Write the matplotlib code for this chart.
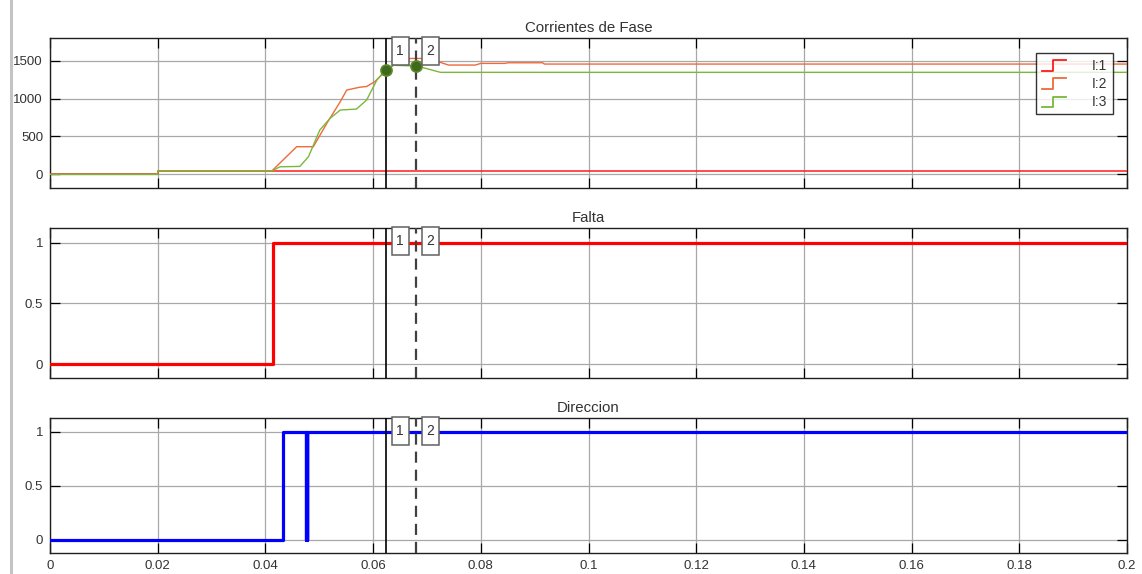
import numpy as np
import matplotlib
matplotlib.use("Agg")
import matplotlib.pyplot as plt
import matplotlib.transforms as mtransforms
from matplotlib.patches import Rectangle
from matplotlib.lines import Line2D
from matplotlib.legend_handler import HandlerBase

plt.rcParams["font.family"] = ["Liberation Sans", "DejaVu Sans"]
plt.rcParams["lines.scale_dashes"] = False

# ---------------- data ----------------
# Phase currents (time in s, current in A)
t_i1 = [0.0, 0.02, 0.02, 0.2]
v_i1 = [0, 0, 45, 45]

t_i2 = [0.0, 0.02, 0.02, 0.0412, 0.0458, 0.0489, 0.0514, 0.0539, 0.0551, 0.0575,
        0.0588, 0.0603, 0.0622, 0.0638, 0.0665, 0.0667, 0.0705, 0.0708, 0.0725,
        0.0740, 0.0790, 0.0800, 0.0845, 0.0850, 0.0915, 0.0918, 0.2]
v_i2 = [0, 0, 45, 45, 365, 365, 673, 959, 1113, 1150,
        1160, 1223, 1355, 1443, 1450, 1530, 1530, 1490, 1478,
        1443, 1443, 1465, 1465, 1473, 1473, 1456, 1456]

t_i3 = [0.0, 0.02, 0.02, 0.0412, 0.0427, 0.0464, 0.0480, 0.0501, 0.0520, 0.0539,
        0.0569, 0.0588, 0.0607, 0.0622, 0.0638, 0.0680, 0.0700, 0.0718, 0.0725, 0.2]
v_i3 = [0, 0, 45, 45, 100, 105, 233, 585, 739, 849,
        862, 981, 1245, 1370, 1440, 1430, 1395, 1360, 1347, 1347]

# Fault flag (step signal)
t_falta = [0.0, 0.0414, 0.2]
v_falta = [0, 1, 1]

# Direction flag (step signal, chatters briefly near 0.0477 s)
t_dir = [0.0, 0.0433, 0.04760, 0.04763, 0.04766, 0.04769, 0.04772, 0.04775, 0.2]
v_dir = [0, 1, 0, 1, 0, 1, 0, 1, 1]

# Measurement cursors
cursor_t = [0.0624, 0.068]
cursor_labels = ["1", "2"]

series_labels = ["I:1", "I:2", "I:3"]
titles = ["Corrientes de Fase", "Falta", "Direccion"]
x_ticks = [0, 0.02, 0.04, 0.06, 0.08, 0.1, 0.12, 0.14, 0.16, 0.18, 0.2]
x_ticklabels = ["0", "0.02", "0.04", "0.06", "0.08", "0.1", "0.12", "0.14", "0.16", "0.18", "0.2"]
y_ticks_current = [0, 500, 1000, 1500]
y_ticks_flag = [0, 0.5, 1]

# ---------------- styling ----------------
C_I1 = "#FF1A1A"
C_I2 = "#EE6A3A"
C_I3 = "#7AB83C"
C_FALTA = "#FF0000"
C_DIR = "#0000FF"
GRID = "#A8A8A8"
TXT = "#333333"

W, H = 1142, 574
fig = plt.figure(figsize=(W / 100, H / 100), dpi=100)


def px_axes(left, top, right, bottom):
    return fig.add_axes([left / W, 1 - bottom / H, (right - left) / W, (bottom - top) / H])


ax1 = px_axes(50, 38, 1127, 188)
ax2 = px_axes(50, 228, 1127, 378)
ax3 = px_axes(50, 418, 1127, 553)
axes = [ax1, ax2, ax3]

for ax, title in zip(axes, titles):
    ax.set_xlim(0, 0.2)
    ax.set_xticks(x_ticks)
    ax.grid(True, color=GRID, lw=0.9)
    ax.set_axisbelow(True)
    ax.tick_params(direction="in", length=7, width=0.9, top=True, right=True,
                   labelsize=9.5, labelcolor=TXT, pad=5)
    for s in ax.spines.values():
        s.set_linewidth(1.0)
        s.set_color("#202020")
    ax.set_title(title, fontsize=10.8, color=TXT, pad=4)

ax1.set_xticklabels([])
ax2.set_xticklabels([])
ax3.set_xticklabels(x_ticklabels)

ax1.set_ylim(-180, 1800)
ax1.set_yticks(y_ticks_current)
ax2.set_ylim(-0.115, 1.12)
ax2.set_yticks(y_ticks_flag)
ax2.set_yticklabels(["0", "0.5", "1"])
ax3.set_ylim(-0.125, 1.125)
ax3.set_yticks(y_ticks_flag)
ax3.set_yticklabels(["0", "0.5", "1"])

# currents
l1, = ax1.plot(t_i1, v_i1, color=C_I1, lw=1.1, zorder=3)
l2, = ax1.plot(t_i2, v_i2, color=C_I2, lw=1.0, zorder=4)
l3, = ax1.plot(t_i3, v_i3, color=C_I3, lw=1.0, zorder=5)

# flags
ax2.plot(t_falta, v_falta, drawstyle="steps-post", color=C_FALTA, lw=2.3, zorder=3)
ax3.plot(t_dir, v_dir, drawstyle="steps-post", color=C_DIR, lw=2.3, zorder=3)

# cursors and their label boxes
box_w = 17 / ((1127 - 50) / 0.2)  # 17 px wide, in data units
for ax in axes:
    h_ax = ax.get_position().height * H
    ax.axvline(cursor_t[0], color="black", lw=1.2, zorder=6)
    ax.axvline(cursor_t[1], color="#404040", lw=1.6, dashes=(8, 5), zorder=6)
    trans = ax.get_xaxis_transform()
    for t, lab in zip(cursor_t, cursor_labels):
        off = mtransforms.ScaledTranslation(5.5 / 100, 0, fig.dpi_scale_trans)
        bh = 28 / h_ax
        y0 = 1 + 1 / h_ax - bh
        r = Rectangle((t, y0), box_w, bh, transform=trans + off, facecolor="white",
                      edgecolor="#606060", lw=1.1, zorder=8, clip_on=False)
        ax.add_patch(r)
        ax.text(t + box_w / 2, y0 + bh / 2, lab, transform=trans + off, ha="center",
                va="center", fontsize=10, color=TXT, zorder=9)

# cursor readout markers on phase 3
mk_v = np.interp(cursor_t, t_i3, v_i3)
ax1.plot(cursor_t, mk_v, "o", ms=8, color="#3F6A1C", mec="#5C8A30", mew=1.2, zorder=7,
         linestyle="none")


# legend with step-shaped glyphs
class StepHandler(HandlerBase):
    def create_artists(self, legend, orig_handle, xdescent, ydescent, width, height,
                       fontsize, trans):
        xs = np.array([0, 0.45, 0.45, 1.0]) * width - xdescent
        ys = np.array([-0.15, -0.15, 0.95, 0.95]) * height - ydescent
        ln = Line2D(xs, ys, color=orig_handle.get_color(), lw=1.3, transform=trans)
        return [ln]


leg = ax1.legend([l1, l2, l3], series_labels, loc="upper right",
                 bbox_to_anchor=((1113 - 50) / 1077, 1 - (53 - 38) / 150),
                 borderaxespad=0, fontsize=10, frameon=True, fancybox=False,
                 handler_map={Line2D: StepHandler()}, handlelength=1.7,
                 handletextpad=1.9, labelspacing=0.3, borderpad=0.4)
leg.get_frame().set_edgecolor("black")
leg.get_frame().set_linewidth(1.0)
leg.set_zorder(10)
for txt in leg.get_texts():
    txt.set_color(TXT)

# window frame strip on the left
fig.add_artist(Line2D([11 / W, 11 / W], [0, 1], transform=fig.transFigure,
                      color="#C4C4C4", lw=2.2))

fig.savefig("out.png", dpi=100)
